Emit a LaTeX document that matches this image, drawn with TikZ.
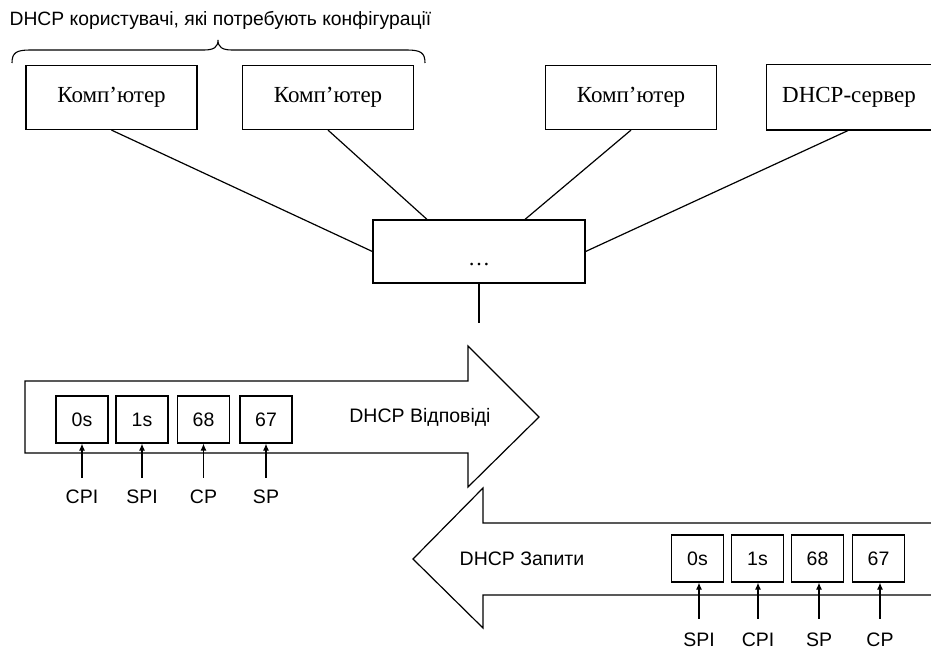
\documentclass[tikz,border=0pt]{standalone}
\usepackage{fontspec}
\setmainfont{Liberation Serif}
\newfontfamily\sansf{Liberation Sans}
\usetikzlibrary{arrows.meta,calc}
\begin{document}
\begin{tikzpicture}[x=1pt,y=-1pt,line width=1.2pt,
  pcbox/.style={draw,minimum width=171pt,minimum height=64pt,inner sep=0pt,text height=15pt,text depth=5pt,font=\fontsize{23}{25}\selectfont},
  fieldbox/.style={draw,minimum width=52pt,minimum height=47pt,inner sep=0pt,text height=13pt,text depth=0pt,font=\sansf\fontsize{19.5}{21}\selectfont},
  lbl/.style={font=\sansf\fontsize{19.5}{21}\selectfont,inner sep=0pt},
  uparrow/.style={-{Latex[length=7pt,width=6pt]},line width=1.1pt},
  blockarrow/.style={line width=1.2pt,line join=miter}]
\useasboundingbox (0,0) rectangle (931,650);

% top caption and brace
\node[lbl,font=\sansf\fontsize{19.3}{21}\selectfont,anchor=west] (cap) at (9,20) {DHCP користувачі, які потребують конфігурації};
\draw[line width=1.1pt] (12,63) .. controls (12,53) and (16,50) .. (30,50) -- (204,50) .. controls (214,50) and (218,47) .. (218,40)
  .. controls (218,47) and (222,50) .. (232,50) -- (407,50) .. controls (421,50) and (425,53) .. (425,63);

% top boxes
\node[pcbox] (c1) at (111.5,97.5) {Комп’ютер};
\node[pcbox] (c2) at (328,97.5) {Комп’ютер};
\node[pcbox] (c3) at (631,97.5) {Комп’ютер};
\node[pcbox,draw=none,minimum width=164pt] (srv) at (849,97.5) {DHCP-сервер};
\draw (srv.north east) -- (srv.north west) -- (srv.south west) -- (srv.south east);

% middle box
\node[draw,minimum width=212pt,minimum height=63pt,inner sep=0pt] (mid) at (479,251.5) {};
\node[font=\fontsize{22}{24}\selectfont,anchor=base] (dots) at (479,265) {\dots};
\coordinate (down) at (479,323);

\draw (c1.south) -- (mid.west);
\draw (c2.south) -- ($(mid.north)+(-52,0)$);
\draw (c3.south) -- ($(mid.north)+(46,0)$);
\draw (srv.south) -- (mid.east);
\draw (mid.south) -- (down);

% right arrow (DHCP responses)
\draw[blockarrow] (25,381) -- (468,381) -- (468,346) -- (539,417) -- (468,487) -- (468,453) -- (25,453) -- cycle;
\node[lbl] (resp) at (420,417) {DHCP Відповіді};
\node[fieldbox] (r1) at (82,419.5) {0s};
\node[fieldbox] (r2) at (142,419.5) {1s};
\node[fieldbox] (r3) at (203.5,419.5) {68};
\node[fieldbox] (r4) at (266,419.5) {67};
\node[lbl] (rl1) at (82,497) {CPI};
\node[lbl] (rl2) at (142,497) {SPI};
\node[lbl] (rl3) at (203.5,497) {CP};
\node[lbl] (rl4) at (266,497) {SP};
\foreach \i in {1,...,4}{
  \draw[uparrow] ($(rl\i.north)+(0,-12)$) -- (r\i.south);
}

% left arrow (DHCP requests)
\draw[blockarrow] (931,523) -- (483,523) -- (483,488) -- (413,559) -- (483,628) -- (483,595) -- (931,595);
\node[lbl] (req) at (522,559) {DHCP Запити};
\node[fieldbox] (q1) at (697.5,558.5) {0s};
\node[fieldbox] (q2) at (757.5,558.5) {1s};
\node[fieldbox] (q3) at (817.5,558.5) {68};
\node[fieldbox] (q4) at (878.5,558.5) {67};
\node[lbl] (ql1) at (699,640) {SPI};
\node[lbl] (ql2) at (758,640) {CPI};
\node[lbl] (ql3) at (819,640) {SP};
\node[lbl] (ql4) at (880,640) {CP};
\foreach \i in {1,...,4}{
  \draw[uparrow] ($(ql\i.north)+(0,-14)$) -- (q\i.south -| ql\i.north);
}
\end{tikzpicture}
\end{document}
